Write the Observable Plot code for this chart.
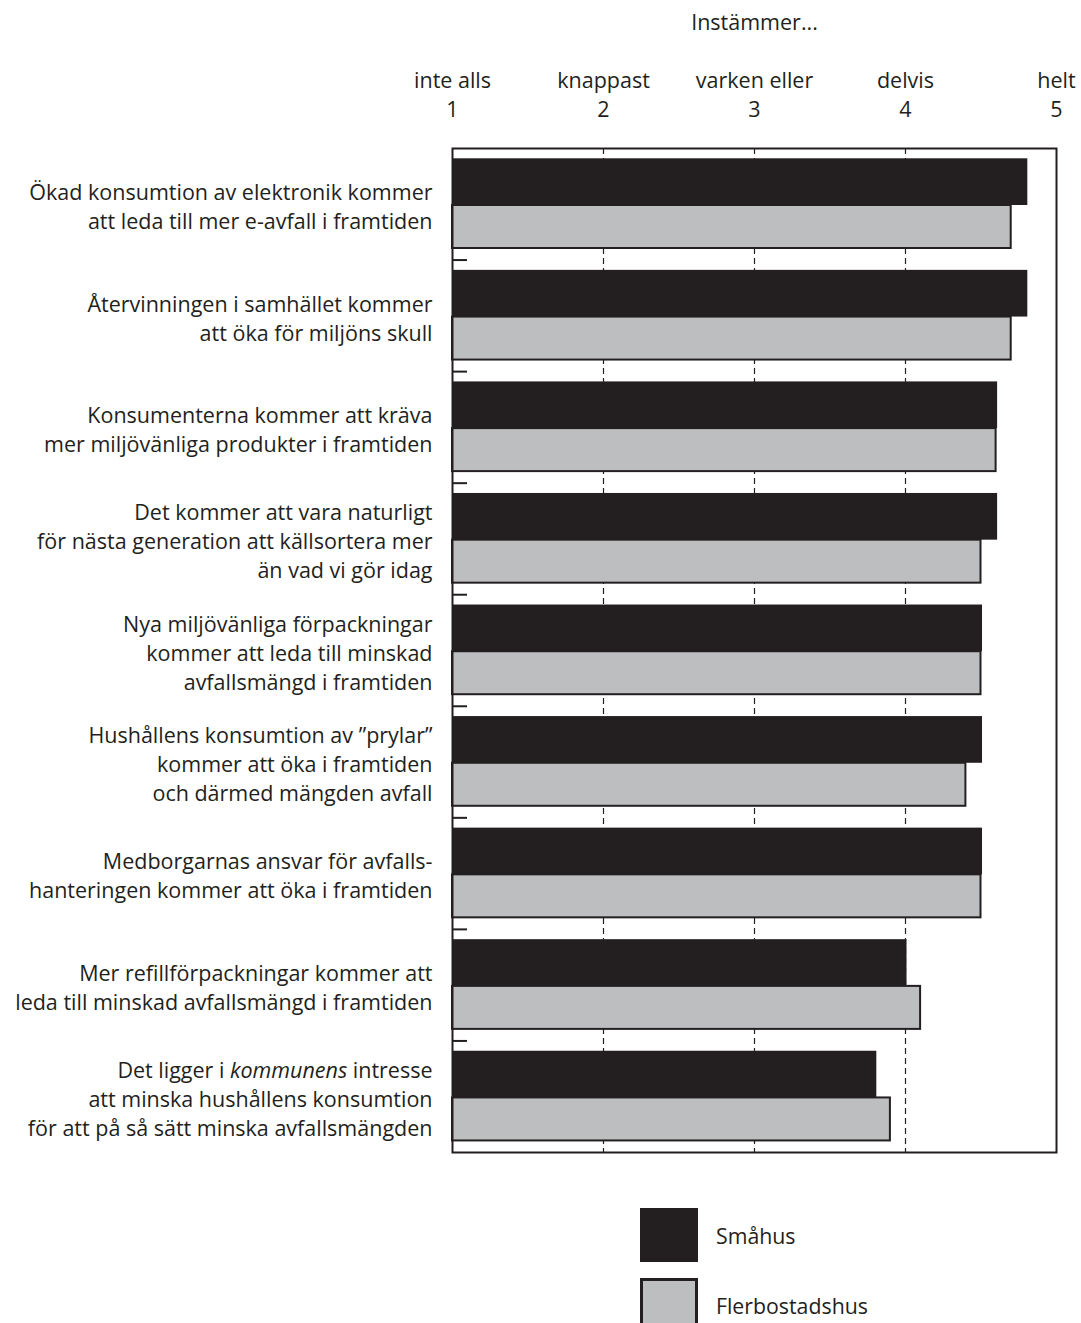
<!DOCTYPE html>
<html>
<head>
<meta charset="utf-8">
<script src="https://cdn.jsdelivr.net/npm/d3@7"></script>
<script src="https://cdn.jsdelivr.net/npm/@observablehq/plot@0.6"></script>
<style>
  body { margin: 0; background: #fff; font-family: "Open Sans", sans-serif; color: #231f20; }
  #legend { margin-left: 640px; margin-top: 28px; }
  .row { display: flex; align-items: center; height: 54px; margin-bottom: 16px; }
  .sw { width: 58px; height: 54px; box-sizing: border-box; }
  .lab { margin-left: 18px; font-size: 21.3px; }
</style>
</head>
<body>
<div id="chart"></div>
<div id="legend"></div>
<script>
const categories = [
  "Ökad konsumtion av elektronik kommer\natt leda till mer e-avfall i framtiden",
  "Återvinningen i samhället kommer\natt öka för miljöns skull",
  "Konsumenterna kommer att kräva\nmer miljövänliga produkter i framtiden",
  "Det kommer att vara naturligt\nför nästa generation att källsortera mer\nän vad vi gör idag",
  "Nya miljövänliga förpackningar\nkommer att leda till minskad\navfallsmängd i framtiden",
  "Hushållens konsumtion av ”prylar”\nkommer att öka i framtiden\noch därmed mängden avfall",
  "Medborgarnas ansvar för avfalls-\nhanteringen kommer att öka i framtiden",
  "Mer refillförpackningar kommer att\nleda till minskad avfallsmängd i framtiden",
  "Det ligger i kommunens intresse\natt minska hushållens konsumtion\nför att på så sätt minska avfallsmängden"
];
const smahus =         [4.81, 4.81, 4.61, 4.61, 4.51, 4.51, 4.51, 4.01, 3.81];
const flerbostadshus = [4.70, 4.70, 4.60, 4.50, 4.50, 4.40, 4.50, 4.10, 3.90];
const series = ["Småhus", "Flerbostadshus"];
const seriesColors = ["#231f20", "#bcbec0"];
const tickValues = [1, 2, 3, 4, 5];
const tickLabels = ["inte alls", "knappast", "varken eller", "delvis", "helt"];
const axisTitle = "Instämmer...";
const scaleMin = 1, scaleMax = 5;

const dark = "#231f20";
const W = 1081, H = 1180, mT = 148, mB = 28, mL = 452, mR = 25;
const bw = (H - mT - mB) / categories.length;
const fs = 21.5;

const rowsA = categories.map((c, i) => ({cat: c, v: smahus[i]}));
const rowsB = categories.map((c, i) => ({cat: c, v: flerbostadshus[i]}));

const chart = Plot.plot({
  width: W, height: H,
  marginTop: mT, marginBottom: mB, marginLeft: mL, marginRight: mR,
  style: {fontFamily: "'Open Sans', sans-serif", color: dark, background: "#fff"},
  x: {domain: [scaleMin, scaleMax], axis: null},
  y: {domain: categories, padding: 0, round: false, axis: null},
  marks: [
    Plot.ruleX(tickValues.slice(1, -1), {stroke: dark, strokeWidth: 1.2, strokeDasharray: "6,4"}),
    Plot.barX(rowsA, {y: "cat", x1: () => scaleMin, x2: "v", fill: seriesColors[0], insetTop: 10.3, insetBottom: bw - 57}),
    Plot.barX(rowsB, {y: "cat", x1: () => scaleMin, x2: "v", fill: seriesColors[1], stroke: dark, strokeWidth: 2, insetTop: 57, insetBottom: bw - 100}),
    Plot.axisY({anchor: "left", ticks: categories.slice(1), tickSize: -15, tickFormat: () => "", label: null, dy: -bw / 2, stroke: dark, strokeWidth: 2}),
    Plot.frame({stroke: dark, strokeWidth: 2}),
    Plot.text(categories, {y: d => d, text: d => d, frameAnchor: "left", textAnchor: "end", dx: -20, dy: 1, lineHeight: 29 / fs, fontSize: fs, fill: dark}),
    Plot.text(tickValues, {x: d => d, text: (d, i) => tickLabels[i] + "\n" + d, frameAnchor: "top", lineAnchor: "middle", dy: -55, lineHeight: 29 / fs, fontSize: fs, fill: dark}),
    Plot.text([axisTitle], {text: d => d, frameAnchor: "top", dy: -134, fontSize: fs, fill: dark})
  ]
});
document.getElementById("chart").appendChild(chart);

// italic "kommunens"
d3.select(chart).selectAll("tspan").each(function() {
  const t = this.textContent;
  if (t.includes("kommunens")) {
    const parts = t.split("kommunens");
    const sel = d3.select(this).text("");
    sel.append("tspan").text(parts[0]);
    sel.append("tspan").attr("font-style", "italic").text("kommunens");
    sel.append("tspan").text(parts[1]);
  }
});

const legend = d3.select("#legend");
series.forEach((s, i) => {
  const row = legend.append("div").attr("class", "row");
  row.append("div").attr("class", "sw")
    .style("background", seriesColors[i])
    .style("border", i === 1 ? `3px solid ${dark}` : "none");
  row.append("div").attr("class", "lab").text(s);
});
</script>
</body>
</html>
